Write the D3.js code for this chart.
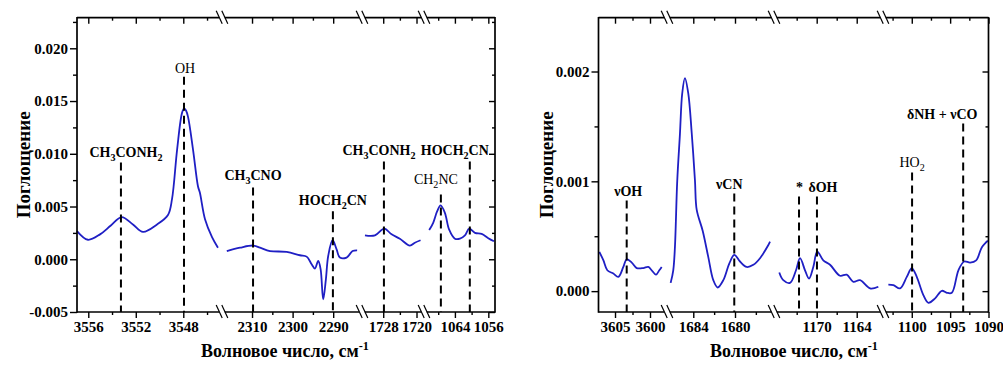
<!DOCTYPE html>
<html><head><meta charset="utf-8">
<script src="https://cdn.jsdelivr.net/npm/d3@7"></script>
<style>
body{margin:0;background:#fff}
text{font-family:"Liberation Serif","Times New Roman",serif;fill:#000}
</style>
</head><body>
<svg id="c" width="1003" height="367"></svg>
<script>
// ---------------- DATA ----------------
// Left panel: axis segments (wavenumber ranges, cm-1)
const leftSegments = [[3556.95, 3544.74], [2317.4, 2282.9], [1733.1, 1718.2], [1071.4, 1054.4]];
const leftXTicks = [[3556, 3552, 3548], [2310, 2300, 2290], [1728, 1720], [1064, 1056]];
const leftXMinor = [[3554, 3550, 3546], [2305, 2295], [1724], [1068, 1060]];
const leftYDomain = [-0.005, 0.0229];
const leftYTicks = [-0.005, 0, 0.005, 0.010, 0.015, 0.020];
const leftYMinor = [-0.0025, 0.0025, 0.0075, 0.0125, 0.0175, 0.0225];

// Left spectra (wavenumber, absorbance), one array per axis segment
const left1 = [[3556.95,0.00267],[3556.03,0.00185],[3555.01,0.00236],[3554.1,0.0032],[3553.19,0.0040],[3552.24,0.0033],[3551.39,0.0026],[3550.21,0.0033],[3549.29,0.0042],[3548.95,0.0057],[3548.52,0.0104],[3548.10,0.0139],[3547.92,0.0143],[3547.77,0.0141],[3547.60,0.0135],[3547.18,0.0104],[3546.76,0.0069],[3546.60,0.0063],[3546.17,0.0038],[3545.58,0.0021],[3545.08,0.0011]];
const left2 = [[2316.22,0.00078],[2312.95,0.0011],[2309.68,0.0013],[2308.03,0.0011],[2305.57,0.00078],[2301.46,0.0007],[2298.19,0.00038],[2296.54,0.00025],[2295.31,-0.00047],[2294.50,-0.00088],[2293.69,-0.00016],[2293.10,-0.00094],[2292.46,-0.0038],[2291.80,-0.0019],[2291.23,0.00031],[2290.15,0.0018],[2289.16,0.00094],[2288.35,0.00016],[2286.70,0.00016],[2285.23,0.00078],[2284.10,0.00085]];
const left3 = [[1732.39,0.00226],[1729.99,0.00226],[1727.76,0.0029],[1725.99,0.00236],[1724.0,0.00195],[1721.6,0.0013],[1720.4,0.00157],[1719.03,0.0018]];
const left4 = [[1070.16,0.00277],[1069.2,0.00346],[1068.24,0.00456],[1067.43,0.0051],[1066.4,0.0044],[1065.37,0.0028],[1064.0,0.00195],[1062.8,0.00195],[1061.6,0.00226],[1060.57,0.0029],[1059.2,0.0025],[1057.6,0.0024],[1056.01,0.0020],[1054.65,0.0017]];

// Left annotations: segment, wavenumber of marker, absorbance of marker top, label, bold
const leftAnnSeg   = [0, 0, 1, 1, 2, 3, 3];
const leftAnnWn    = [3553.25, 3547.94, 2309.75, 2290.07, 1727.83, 1067.36, 1060.43];
const leftAnnTop   = [0.00917, 0.0173, 0.0068, 0.00454, 0.00926, 0.00614, 0.00926];
const leftAnnText  = ["CH_3CONH_2", "OH", "CH_3CNO", "HOCH_2CN", "CH_3CONH_2", "CH_2NC", "HOCH_2CN"];
const leftAnnBold  = [true, false, true, true, true, false, true];

// Right panel
const rightSegments = [[3607.36, 3597.57], [1686.52, 1676.26], [1176.4, 1160.06], [1103.75, 1090.0]];
const rightXTicks = [[3605, 3600], [1684, 1680], [1170, 1164], [1100, 1095, 1090]];
const rightXMinor = [[3602.5], [1682, 1678], [1173, 1167], [1102.5, 1097.5, 1092.5]];
const rightYDomain = [-0.00019, 0.00249];
const rightYTicks = [0, 0.001, 0.002];
const rightYMinor = [0.0005, 0.0015];

const right1 = [[3607.24,0.000357],[3606.67,0.000282],[3606.1,0.00019],[3605.24,0.00016],[3604.53,0.00013],[3603.81,0.00022],[3603.33,0.00029],[3602.61,0.00026],[3601.9,0.00021],[3600.96,0.00021],[3600.24,0.00022],[3599.76,0.00019],[3599.14,0.00015],[3598.67,0.00019],[3598.33,0.00022]];
const right2 = [[1686.17,0.000075],[1685.92,0.00019],[1685.76,0.0004],[1685.54,0.001],[1685.28,0.00143],[1685.06,0.0018],[1684.8,0.00194],[1684.48,0.0018],[1684.15,0.00144],[1683.84,0.00101],[1683.67,0.00074],[1683.1,0.00055],[1682.56,0.00031],[1682.08,0.0001],[1681.66,0.000033],[1681.12,0.0001],[1680.55,0.00025],[1680.07,0.00033],[1679.52,0.00027],[1678.88,0.00022],[1678.24,0.00024],[1677.6,0.0003],[1676.8,0.00042],[1676.64,0.00045]];
const right3 = [[1175.61,0.00017],[1175.01,0.0001],[1174.0,0.000075],[1173.1,0.00019],[1172.5,0.0003],[1171.75,0.00019],[1171.15,0.000115],[1170.51,0.00022],[1169.91,0.00036],[1169.01,0.00028],[1168.0,0.00024],[1166.51,0.00014],[1165.5,0.00015],[1164.51,0.000085],[1163.51,0.0001],[1162.0,0.000025],[1160.76,0.00004]];
const right4 = [[1103.05,0.00006],[1102.4,0.000055],[1101.53,0.000025],[1100.65,0.00013],[1100.0,0.00021],[1099.35,0.00013],[1098.49,-0.000036],[1097.83,-0.000106],[1096.96,-0.000066],[1096.08,0.000003],[1095.43,-0.000015],[1094.78,-0.000015],[1093.92,0.00019],[1093.17,0.00027],[1092.39,0.00026],[1091.61,0.00028],[1090.86,0.0004],[1090.08,0.00046]];

const rightAnnSeg  = [0, 1, 2, 2, 3, 3];
const rightAnnWn   = [3603.33, 1680.07, 1172.65, 1169.96, 1099.96, 1093.3];
const rightAnnTop  = [0.000825, 0.000889, 0.000862, 0.000862, 0.00108, 0.001526];
const rightAnnText = ["νOH", "νCN", "*", "δOH", "HO_2", "δNH + νCO"];
const rightAnnBold = [true, true, true, true, false, true];

const yTitle = "Поглощение";
const xTitle = "Волновое число, см^-1";

// ---------------- DRAWING ----------------
const svg = d3.select("#c");
svg.append("rect").attr("width", 1003).attr("height", 367).attr("fill", "#fff");
const BLUE = "#1f1fc4";

function rich(t, s) {
  const parts = s.split(/(_\d|\^-?\d)/).filter(p => p.length);
  let shift = 0;
  parts.forEach(p => {
    if (p[0] === "_") {
      t.append("tspan").attr("font-size", "0.72em").attr("dy", 4 - shift).text(p.slice(1));
      shift = 4;
    } else if (p[0] === "^") {
      t.append("tspan").attr("font-size", "0.68em").attr("dy", -7 - shift).text(p.slice(1));
      shift = -7;
    } else {
      t.append("tspan").attr("dy", -shift).text(p);
      shift = 0;
    }
  });
}

function panel(cfg) {
  const bounds = [cfg.x0, ...cfg.breaks, cfg.x1];
  const xs = cfg.segments.map((d, i) => d3.scaleLinear().domain(d).range([bounds[i], bounds[i + 1]]));
  const y = d3.scaleLinear().domain(cfg.yDomain).range([cfg.y1, cfg.y0]);
  const g = svg.append("g");

  // curves
  cfg.curves.forEach((c, i) => {
    const line = d3.line().x(d => xs[i](d[0])).y(d => y(d[1])).curve(d3.curveCatmullRom.alpha(0.5));
    g.append("path").attr("d", line(c)).attr("fill", "none")
      .attr("stroke", BLUE).attr("stroke-width", 1.8).attr("stroke-linejoin", "round");
  });

  // annotation markers + labels
  cfg.annSeg.forEach((s, i) => {
    const x = xs[s](cfg.annWn[i]);
    const yt = y(cfg.annTop[i]);
    g.append("line").attr("x1", x).attr("x2", x).attr("y1", yt).attr("y2", cfg.y1)
      .attr("stroke", "#000").attr("stroke-width", 2).attr("stroke-dasharray", "8,5");
    const t = g.append("text").attr("x", x + cfg.annDx[i]).attr("y", yt - cfg.annGap[i])
      .attr("text-anchor", "middle").attr("font-size", 14)
      .attr("font-weight", cfg.annBold[i] ? "bold" : "normal");
    rich(t, cfg.annText[i]);
  });

  // x axes per segment: bottom (outward) and top (inward)
  xs.forEach((sx, i) => {
    const b = g.append("g").attr("transform", `translate(0,${cfg.y1})`)
      .call(d3.axisBottom(sx).tickValues(cfg.xTicks[i]).tickSize(6).tickPadding(3).tickFormat(d3.format("d")));
    b.select(".domain").remove();
    b.selectAll("text").attr("font-size", 15).attr("font-weight", "bold")
      .attr("font-family", "Liberation Serif, Times New Roman, serif");
    const bm = g.append("g").attr("transform", `translate(0,${cfg.y1})`)
      .call(d3.axisBottom(sx).tickValues(cfg.xMinor[i]).tickSize(3).tickFormat(""));
    bm.select(".domain").remove();
    const tp = g.append("g").attr("transform", `translate(0,${cfg.y0})`)
      .call(d3.axisTop(sx).tickValues(cfg.xTicks[i]).tickSize(-6).tickFormat(""));
    tp.select(".domain").remove();
    const tm = g.append("g").attr("transform", `translate(0,${cfg.y0})`)
      .call(d3.axisTop(sx).tickValues(cfg.xMinor[i]).tickSize(-3).tickFormat(""));
    tm.select(".domain").remove();
  });

  // y axes
  const fmt = v => d3.format(".3f")(v).replace("−", "-");
  const la = g.append("g").attr("transform", `translate(${cfg.x0},0)`)
    .call(d3.axisLeft(y).tickValues(cfg.yTicks).tickSize(7).tickPadding(2).tickFormat(fmt));
  la.select(".domain").remove();
  la.selectAll("text").attr("font-size", 15).attr("font-weight", "bold")
    .attr("font-family", "Liberation Serif, Times New Roman, serif");
  const lm = g.append("g").attr("transform", `translate(${cfg.x0},0)`)
    .call(d3.axisLeft(y).tickValues(cfg.yMinor).tickSize(4).tickFormat(""));
  lm.select(".domain").remove();
  const ra = g.append("g").attr("transform", `translate(${cfg.x1},0)`)
    .call(d3.axisRight(y).tickValues(cfg.yTicks).tickSize(-6).tickFormat(""));
  ra.select(".domain").remove();
  const rm = g.append("g").attr("transform", `translate(${cfg.x1},0)`)
    .call(d3.axisRight(y).tickValues(cfg.yMinor).tickSize(-3).tickFormat(""));
  rm.select(".domain").remove();
  g.selectAll(".tick line").attr("stroke", "#000").attr("stroke-width", 1.4);

  // frame with breaks
  const fr = g.append("g").attr("stroke", "#000").attr("stroke-width", 1.7).attr("fill", "none");
  fr.append("line").attr("x1", cfg.x0).attr("x2", cfg.x0).attr("y1", cfg.y0 - 0.8).attr("y2", cfg.y1 + 0.8);
  fr.append("line").attr("x1", cfg.x1).attr("x2", cfg.x1).attr("y1", cfg.y0 - 0.8).attr("y2", cfg.y1 + 0.8);
  const gap = 2.8;
  [cfg.y0, cfg.y1].forEach(ya => {
    bounds.slice(0, -1).forEach((bx, i) => {
      const a = i === 0 ? cfg.x0 : bx + gap;
      const e = i === bounds.length - 2 ? cfg.x1 : bounds[i + 1] - gap;
      fr.append("line").attr("x1", a).attr("x2", e).attr("y1", ya).attr("y2", ya);
    });
    cfg.breaks.forEach(bx => {
      [-gap, gap].forEach(o => {
        fr.append("line").attr("x1", bx + o - 3).attr("y1", ya - 7)
          .attr("x2", bx + o + 3).attr("y2", ya + 6).attr("stroke-width", 1.2);
      });
    });
  });

  // titles
  g.append("text").attr("transform", `translate(${cfg.yTitleX},${(cfg.y0 + cfg.y1) / 2}) rotate(-90)`)
    .attr("text-anchor", "middle").attr("font-size", 19).attr("font-weight", "bold").text(yTitle);
  const xt = g.append("text").attr("x", cfg.xTitleX).attr("y", 357)
    .attr("text-anchor", "middle").attr("font-size", 18).attr("font-weight", "bold");
  rich(xt, xTitle);
}

panel({
  x0: 77, x1: 495, y0: 17.7, y1: 312, breaks: [222, 362, 424],
  segments: leftSegments, xTicks: leftXTicks, xMinor: leftXMinor,
  yDomain: leftYDomain, yTicks: leftYTicks, yMinor: leftYMinor,
  curves: [left1, left2, left3, left4],
  annSeg: leftAnnSeg, annWn: leftAnnWn, annTop: leftAnnTop, annText: leftAnnText, annBold: leftAnnBold,
  annDx: [5, 1, 0, 0, -5, -5, -15], annGap: [6, 4, 8, 6, 7, 10, 7],
  yTitleX: 30, xTitleX: 285
});

panel({
  x0: 598.5, x1: 988.5, y0: 17.7, y1: 312, breaks: [667, 774, 883],
  segments: rightSegments, xTicks: rightXTicks, xMinor: rightXMinor,
  yDomain: rightYDomain, yTicks: rightYTicks, yMinor: rightYMinor,
  curves: [right1, right2, right3, right4],
  annSeg: rightAnnSeg, annWn: rightAnnWn, annTop: rightAnnTop, annText: rightAnnText, annBold: rightAnnBold,
  annDx: [1.5, -5, 0.5, 6, 0, -21], annGap: [5, 5, 4, 4, 6, 5],
  yTitleX: 553, xTitleX: 794
});
</script>
</body></html>
